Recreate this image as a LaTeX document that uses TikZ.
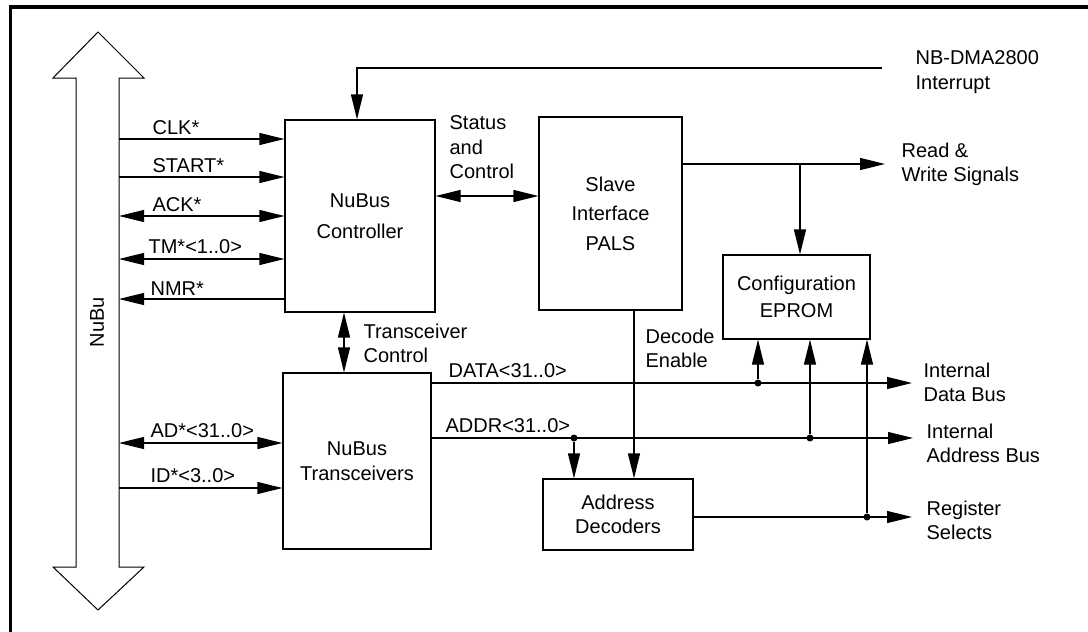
\documentclass[tikz,border=0pt]{standalone}
\usepackage{fontspec}
\setmainfont{Liberation Sans}
\usetikzlibrary{arrows.meta}

\begin{document}
\begin{tikzpicture}[x=1pt, y=-1pt, line width=1.2pt,
    font=\fontsize{20}{24.5}\selectfont,
    blk/.style={draw, rectangle, align=center, inner sep=0pt},
    lbl/.style={anchor=north west, inner sep=0pt, align=left},
    sig/.style={-{Triangle[length=25pt,width=12pt]}},
    sigb/.style={{Triangle[length=25pt,width=12pt]}-{Triangle[length=25pt,width=12pt]}},
    dot/.style={circle, fill, inner sep=0pt, minimum size=7pt}]
    \useasboundingbox (0,0) rectangle (1088,632);
    % frame
    \draw[line width=3.5pt] (10.5,632) -- (10.5,7) -- (1088,7);
    % the bus
    \draw[line width=1pt] (98,32) -- (144,78) -- (119,78) -- (119,567) -- (144,567)
      -- (98,610) -- (53,567) -- (76,567) -- (76,78) -- (53,78) -- cycle;
    \node[rotate=90] (bus) at (97,322) {NuBu};
    % blocks
    \node[blk, minimum width=150pt, minimum height=192pt] (B1) at (360,216) {NuBus\\[7pt]Controller};
    \node[blk, minimum width=143pt, minimum height=193pt] (B2) at (610.5,213.5) {Slave\\[5pt]Interface\\[5pt]PALS};
    \node[blk, minimum width=147pt, minimum height=84pt] (B3) at (796.5,297) {Configuration\\[2pt]EPROM};
    \node[blk, minimum width=148pt, minimum height=176pt] (B4) at (357,461) {NuBus\\Transceivers};
    \node[blk, minimum width=150pt, minimum height=71pt] (B5) at (618,514.5) {Address\\Decoders};
    % bus side signals
    \coordinate (P1) at (119,139);
    \coordinate (P2) at (119,177);
    \coordinate (P3) at (119,216);
    \coordinate (P4) at (119,259);
    \coordinate (P5) at (119,299);
    \coordinate (P6) at (119,443);
    \coordinate (P7) at (119,488);
    \draw[sig] (P1) -- (P1 -| B1.west);
    \draw[sig] (P2) -- (P2 -| B1.west);
    \draw[sigb] (P3) -- (P3 -| B1.west);
    \draw[sigb] (P4) -- (P4 -| B1.west);
    \draw[sig] (P5 -| B1.west) -- (P5);
    \draw[sigb] (P6) -- (P6 -| B4.west);
    \draw[sig] (P7) -- (P7 -| B4.west);
    \node[lbl] (L1) at (152,120) {CLK*};
    \node[lbl] (L2) at (152,158) {START*};
    \node[lbl] (L3) at (152,197) {ACK*};
    \node[lbl] (L4) at (148,239) {TM*<1..0>};
    \node[lbl] (L5) at (150,281) {NMR*};
    \node[lbl] (L6) at (150,423) {AD*<31..0>};
    \node[lbl] (L7) at (150,468) {ID*<3..0>};
    % interrupt
    \coordinate (Q1) at (882,68);
    \draw[sig] (Q1) -| ([xshift=-3pt]B1.north);
    \node[lbl] (L8) at (915,50) {NB-DMA2800\\Interrupt};
    % status and control
    \coordinate (Q2) at (487,196);
    \draw[sigb] (Q2 -| B1.east) -- (Q2 -| B2.west);
    \node[lbl] (L9) at (449,115) {Status\\and\\Control};
    % read and write
    \coordinate (Q3) at (885,164);
    \coordinate (J1) at (800,164);
    \draw[sig] (Q3 -| B2.east) -- (Q3);
    \draw[sig] (J1) -- (J1 |- B3.north);
    \node[lbl] (L10) at (901,142) {Read \&\\Write Signals};
    % transceiver control
    \coordinate (Q4) at (344,340);
    \draw[sigb] (Q4 |- B1.south) -- (Q4 |- B4.north);
    \node[lbl] (L11) at (363,323) {Transceiver\\Control};
    % decode enable
    \coordinate (Q5) at (634,400);
    \draw[sig] (Q5 |- B2.south) -- (Q5 |- B5.north);
    \node[lbl] (L12) at (645,328) {Decode\\Enable};
    % data bus
    \coordinate (Q6) at (912,383);
    \draw[sig] (Q6 -| B4.east) -- (Q6);
    \node[lbl] (L13) at (448,363) {DATA<31..0>};
    \node[dot] (D1) at (758,383) {};
    \draw[sig] (D1) -- (D1 |- B3.south);
    \node[lbl] (L14) at (923,362) {Internal\\Data Bus};
    % address bus
    \coordinate (Q7) at (913,438);
    \draw[sig] (Q7 -| B4.east) -- (Q7);
    \node[lbl] (L15) at (445,418) {ADDR<31..0>};
    \node[dot] (D2) at (574,438) {};
    \draw[sig] (D2) -- (D2 |- B5.north);
    \node[dot] (D3) at (810,438) {};
    \draw[sig] (D3) -- (D3 |- B3.south);
    \node[lbl] (L16) at (926,423) {Internal\\Address Bus};
    % register selects
    \coordinate (Q8) at (912,517);
    \draw[sig] (Q8 -| B5.east) -- (Q8);
    \node[dot] (D4) at (867,517) {};
    \draw[sig] (D4) -- (D4 |- B3.south);
    \node[lbl] (L17) at (926,500) {Register\\Selects};
\end{tikzpicture}
\end{document}
